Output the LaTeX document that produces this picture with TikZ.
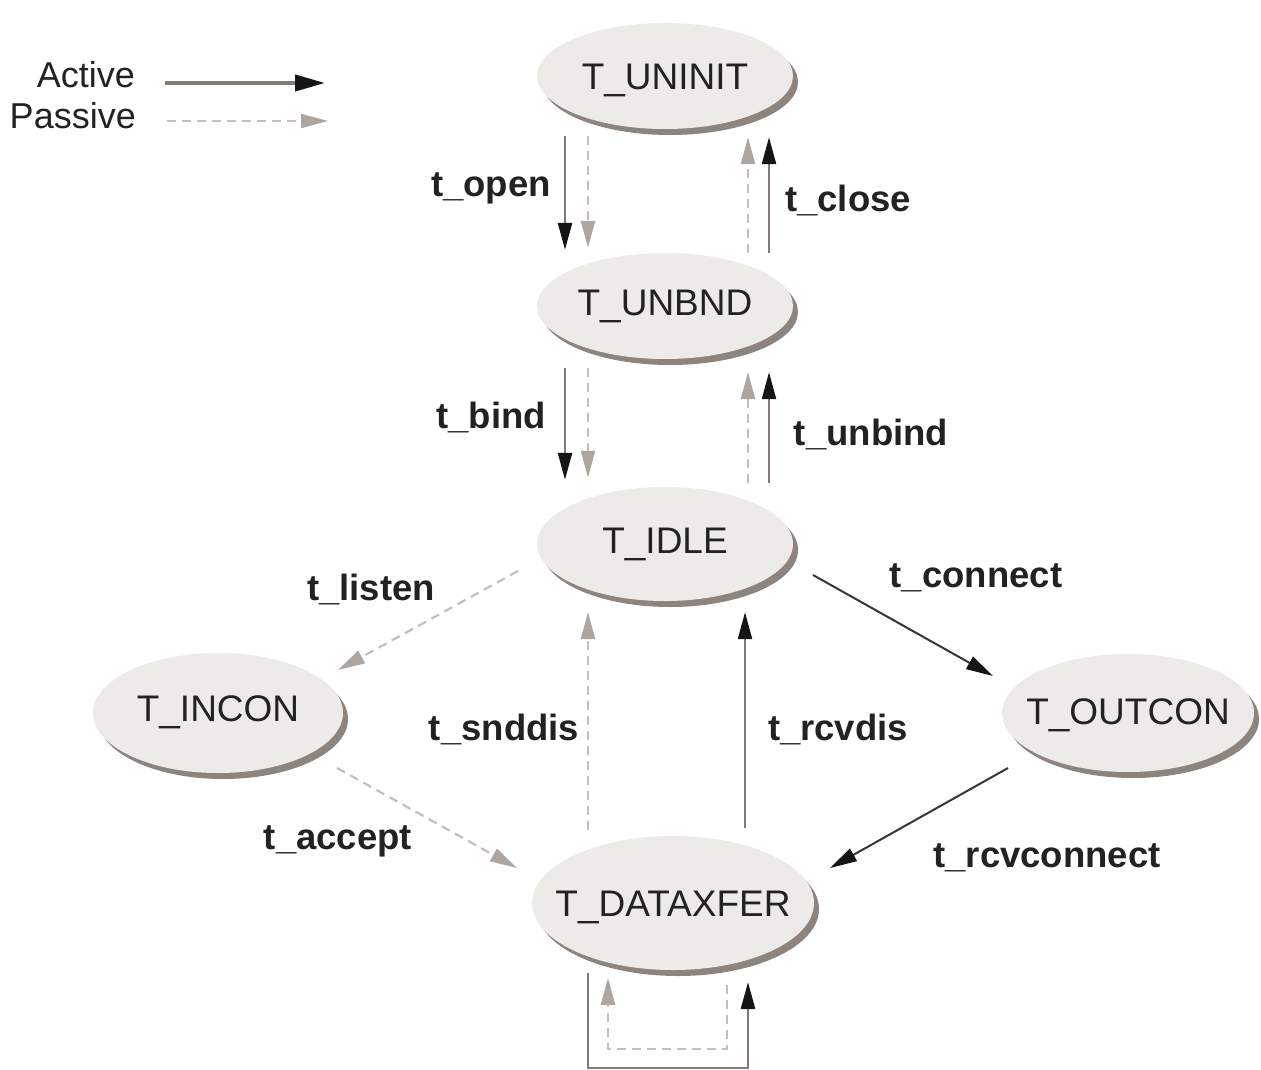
\documentclass[tikz,border=0pt]{standalone}
\usepackage{fontspec}
\setmainfont{Liberation Sans}
\usetikzlibrary{arrows.meta,shapes.geometric,shadows}

\definecolor{statefill}{HTML}{EDEBE8}
\definecolor{stateshadow}{HTML}{8E847E}
\definecolor{actline}{HTML}{857B75}
\definecolor{actdiag}{HTML}{3B3532}
\definecolor{actip}{HTML}{161414}
\definecolor{pasline}{HTML}{C6BEB9}
\definecolor{pastip}{HTML}{ADA59F}
\definecolor{inkc}{HTML}{222222}

% state name, centred with zero width, optionally raised
\newcommand{\statename}[2][0pt]{\makebox[0pt]{\raisebox{#1}{#2}}}

\tikzset{
  state/.style={ellipse, inner sep=0pt, fill=statefill, text=inkc,
    font=\fontsize{37}{42}\selectfont, text height=26pt, text depth=0pt,
    drop shadow={shadow xshift=5pt, shadow yshift=-6pt, opacity=1, fill=stateshadow}},
  trans/.style={text=inkc, font=\fontsize{36.5}{42}\selectfont\bfseries, inner sep=0pt},
  legtext/.style={text=inkc, font=\fontsize{36}{40}\selectfont, inner sep=0pt, anchor=east},
  act/.style={draw=actline, line width=2.4pt,
    -{Triangle[length=27pt,width=14pt,color=actip]}},
  actd/.style={act, draw=actdiag, line width=2pt},
  pas/.style={draw=pasline, line width=2.2pt, dash pattern=on 9pt off 6pt,
    -{Triangle[length=27pt,width=14pt,color=pastip]}},
}

\begin{document}
\begin{tikzpicture}[x=1pt,y=1pt]
  \useasboundingbox (0,0) rectangle (1261,-1070);

  % states
  \node[state, minimum width=256pt, minimum height=106pt] (uninit) at (665,-76) {\statename[-1pt]{T\_UNINIT}};
  \node[state, minimum width=256pt, minimum height=106pt] (unbnd) at (665,-306) {\statename[4pt]{T\_UNBND}};
  \node[state, minimum width=256pt, minimum height=114pt] (idle) at (665,-544) {\statename[4pt]{T\_IDLE}};
  \node[state, minimum width=250pt, minimum height=120pt] (incon) at (218,-713) {\statename[5pt]{T\_INCON}};
  \node[state, minimum width=252pt, minimum height=118pt] (outcon) at (1128,-713) {\statename[2pt]{T\_OUTCON}};
  \node[state, minimum width=282pt, minimum height=134pt] (dataxfer) at (673,-903) {\statename{T\_DATAXFER}};

  % legend
  \node[legtext] (legact) at (135,-75) {Active};
  \node[legtext] (legpas) at (136,-116) {Passive};
  \coordinate (legactA) at (165,-83);
  \coordinate (legactB) at (325,-83);
  \coordinate (legpasA) at (167,-121);
  \coordinate (legpasB) at (328,-121);
  \draw[act, line width=4pt, -{Triangle[length=30pt,width=16pt,color=actip]}] (legactA) -- (legactB);
  \draw[pas] (legpasA) -- (legpasB);

  % transition labels
  \node[trans] (lopen) at (491,-188) {t\_open};
  \node[trans] (lclose) at (848,-201) {t\_close};
  \node[trans] (lbind) at (491,-418) {t\_bind};
  \node[trans] (lunbind) at (871,-434) {t\_unbind};
  \node[trans] (llisten) at (371,-589) {t\_listen};
  \node[trans] (lconnect) at (976,-578) {t\_connect};
  \node[trans] (lsnddis) at (504,-729) {t\_snddis};
  \node[trans] (lrcvdis) at (838,-729) {t\_rcvdis};
  \node[trans] (laccept) at (338,-841) {t\_accept};
  \node[trans] (lrcvconnect) at (1047,-858) {t\_rcvconnect};

  % T_UNINIT <-> T_UNBND
  \draw[act] ([shift={(-100,-7)}]uninit.south) -- ([shift={(-100,3)}]unbnd.north);
  \draw[pas] ([shift={(-77,-7)}]uninit.south) -- ([shift={(-77,5)}]unbnd.north);
  \draw[pas] ([shift={(83,0)}]unbnd.north) -- ([shift={(83,-8)}]uninit.south);
  \draw[act] ([shift={(104,0)}]unbnd.north) -- ([shift={(104,-8)}]uninit.south);

  % T_UNBND <-> T_IDLE
  \draw[act] ([shift={(-100,-9)}]unbnd.south) -- ([shift={(-100,7)}]idle.north);
  \draw[pas] ([shift={(-77,-9)}]unbnd.south) -- ([shift={(-77,9)}]idle.north);
  \draw[pas] ([shift={(83,4)}]idle.north) -- ([shift={(83,-13)}]unbnd.south);
  \draw[act] ([shift={(104,4)}]idle.north) -- ([shift={(104,-13)}]unbnd.south);

  % T_IDLE -> T_INCON / T_OUTCON
  \draw[pas] ([shift={(-147,-27)}]idle.center) -- ([shift={(120,43)}]incon.center);
  \draw[actd] ([shift={(148,-31)}]idle.center) -- ([shift={(-135,37)}]outcon.center);

  % T_DATAXFER -> T_IDLE
  \draw[pas] ([shift={(-85,6)}]dataxfer.north) -- ([shift={(-77,-11)}]idle.south);
  \draw[act] ([shift={(72,8)}]dataxfer.north) -- ([shift={(80,-11)}]idle.south);

  % T_INCON / T_OUTCON -> T_DATAXFER
  \draw[pas] ([shift={(119,-55)}]incon.center) -- ([shift={(-156,35)}]dataxfer.center);
  \draw[actd] ([shift={(-120,-55)}]outcon.center) -- ([shift={(157,35)}]dataxfer.center);

  % T_DATAXFER self loops
  \draw[act] ([shift={(-85,-70)}]dataxfer.center) -- ++(0,-95) -| ([shift={(75,-79)}]dataxfer.center);
  \draw[pas] ([shift={(54,-82)}]dataxfer.center) -- ++(0,-64) -| ([shift={(-65,-75)}]dataxfer.center);
\end{tikzpicture}
\end{document}
